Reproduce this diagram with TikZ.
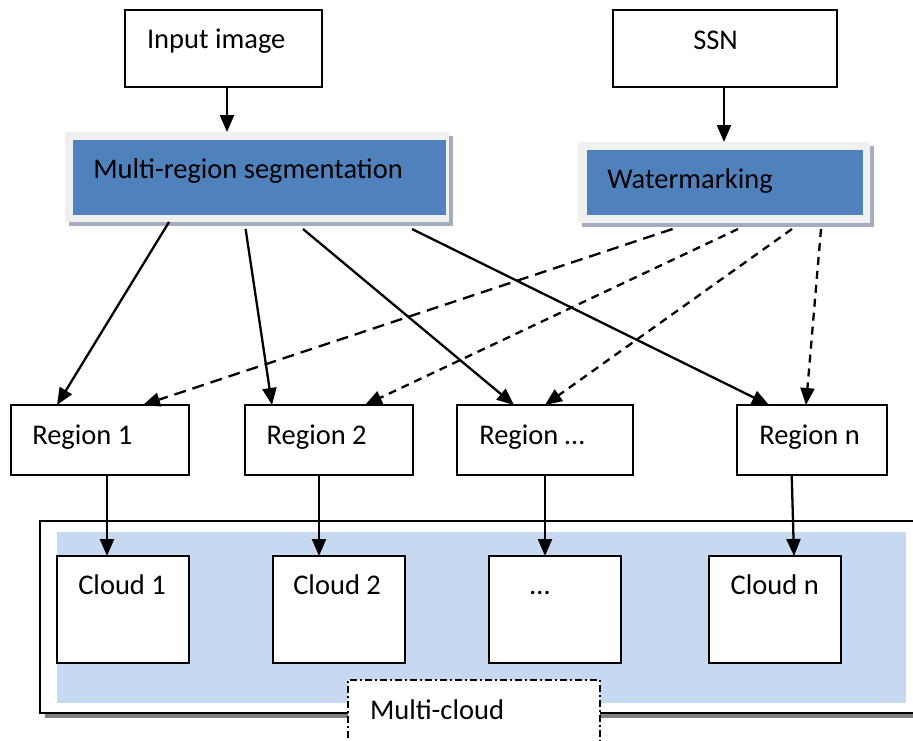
\documentclass[tikz,border=0pt]{standalone}
\usepackage{fontspec}
\setmainfont{Carlito}
\usetikzlibrary{arrows.meta,calc}
\definecolor{blueA}{HTML}{4F81BD}
\definecolor{panelB}{HTML}{C6D9F1}
\definecolor{frameG}{HTML}{F0F0F0}
\definecolor{shadowB}{HTML}{A3ADBF}
\definecolor{shadowG}{HTML}{808080}
\tikzset{
  bx/.style={draw, line width=1.8pt, fill=white, inner sep=0pt, outer sep=0pt, anchor=north west},
  plain/.style={inner sep=0pt, outer sep=0pt, anchor=north west},
  lbl/.style={inner sep=0pt, outer sep=0pt, anchor=base west, font=\fontsize{28.5}{34}\selectfont},
  arr/.style={line width=2.3pt, -{Triangle[length=17pt,width=14pt]}},
  darrl/.style={arr, dash pattern=on 12pt off 7pt},
  darrs/.style={arr, dash pattern=on 8pt off 6pt},
}
\begin{document}
\begin{tikzpicture}[x=1pt,y=-1pt]
\useasboundingbox (0,0) rectangle (913,740);
% top boxes
\node[bx, minimum width=197pt, minimum height=77pt] (inp) at (125,10) {};
\node[lbl] (inpT) at (147,48.5) {Input image};
\node[bx, minimum width=224pt, minimum height=77pt] (ssn) at (613,10) {};
\node[lbl] (ssnT) at (693.3,49.3) {SSN};
% Multi-region segmentation
\node[plain, fill=shadowB, minimum width=384pt, minimum height=90pt] (mrsS) at (69,136) {};
\node[plain, fill=frameG, minimum width=384pt, minimum height=90pt] (mrsF) at (65,132) {};
\node[plain, fill=blueA, minimum width=373pt, minimum height=75pt] (mrs) at (72.7,140) {};
\node[lbl] (mrsT) at (93.3,178) {Multi-region segmentation};
% Watermarking
\node[plain, fill=shadowB, minimum width=292pt, minimum height=81pt] (wmS) at (582,146) {};
\node[plain, fill=frameG, minimum width=292pt, minimum height=81pt] (wmF) at (578,142) {};
\node[plain, fill=blueA, minimum width=276pt, minimum height=65pt] (wm) at (587.3,150) {};
\node[lbl] (wmT) at (607.3,188.3) {Watermarking};
% regions
\node[bx, minimum width=178pt, minimum height=70pt] (r1) at (11,405) {};
\node[bx, minimum width=168pt, minimum height=70pt] (r2) at (245,405) {};
\node[bx, minimum width=176pt, minimum height=70pt] (r3) at (457,405) {};
\node[bx, minimum width=150pt, minimum height=70pt] (r4) at (737,405) {};
\node[lbl] (r1T) at (32.3,444) {Region 1};
\node[lbl] (r2T) at (266.7,444) {Region 2};
\node[lbl] (r3T) at (479.3,444) {Region …};
\node[lbl] (r4T) at (759.3,444) {Region n};
% multi-cloud container
\node[plain, fill=shadowG, minimum width=885pt, minimum height=192pt] (mcS) at (45,526) {};
\node[bx, minimum width=885pt, minimum height=192pt] (mc) at (40,521) {};
\node[plain, fill=panelB, minimum width=849pt, minimum height=171pt] (pan) at (57,532) {};
\node[bx, minimum width=132pt, minimum height=107pt] (c1) at (57,556) {};
\node[bx, minimum width=132pt, minimum height=107pt] (c2) at (273,556) {};
\node[bx, minimum width=132pt, minimum height=107pt] (c3) at (489,556) {};
\node[bx, minimum width=132pt, minimum height=107pt] (c4) at (709,556) {};
\node[lbl] (c1T) at (78.3,594) {Cloud 1};
\node[lbl] (c2T) at (293.3,594) {Cloud 2};
\node[lbl] (c3T) at (530,594) {…};
\node[lbl] (c4T) at (730.7,594) {Cloud n};
\node[bx, line width=1.3pt, dash pattern=on 7pt off 3pt on 2pt off 3pt, minimum width=252pt, minimum height=90pt] (mcl) at (348,680) {};
\node[lbl] (mclT) at (370,719) {Multi-cloud};
% arrows top
\draw[arr] ([xshift=102pt]inp.south west) -- ([xshift=162pt]mrsF.north west);
\draw[arr] ([xshift=111pt]ssn.south west) -- ([xshift=146pt]wmF.north west);
% solid arrows
\draw[arr] ([xshift=104pt]mrsF.south west) -- ([xshift=46pt]r1.north west);
\draw[arr] ([xshift=180.6pt,yshift=-7pt]mrsF.south west) -- ([xshift=27pt]r2.north west);
\draw[arr] ([xshift=238pt,yshift=-7pt]mrsF.south west) -- ([xshift=57pt]r3.north west);
\draw[arr] ([xshift=347pt,yshift=-7pt]mrsF.south west) -- ([xshift=32pt]r4.north west);
% dashed arrows
\draw[darrl] ([xshift=94.6pt,yshift=-6pt]wmF.south west) -- ([xshift=132pt]r1.north west);
\draw[darrs] ([xshift=160pt,yshift=-6pt]wmF.south west) -- ([xshift=120pt]r2.north west);
\draw[darrs] ([xshift=214pt,yshift=-6pt]wmF.south west) -- ([xshift=88pt]r3.north west);
\draw[darrs] ([xshift=243pt,yshift=-6pt]wmF.south west) -- ([xshift=69pt]r4.north west);
% region to cloud
\draw[arr] ([xshift=96pt]r1.south west) -- ([xshift=50pt]c1.north west);
\draw[arr] ([xshift=74pt]r2.south west) -- ([xshift=46pt]c2.north west);
\draw[arr] ([xshift=88pt]r3.south west) -- ([xshift=56pt]c3.north west);
\draw[arr] ([xshift=54.7pt]r4.south west) -- ([xshift=85pt]c4.north west);
\end{tikzpicture}
\end{document}
